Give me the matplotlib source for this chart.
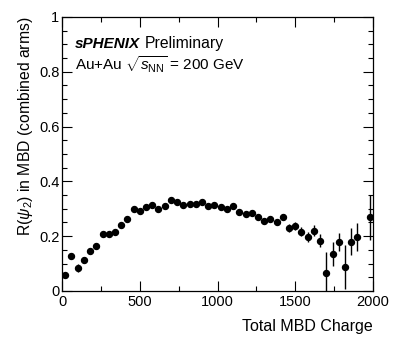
import numpy as np
import matplotlib
matplotlib.use("Agg")
import matplotlib.pyplot as plt
from matplotlib.ticker import MultipleLocator

plt.rcParams['font.family'] = ['Liberation Sans', 'DejaVu Sans']
plt.rcParams['mathtext.fontset'] = 'custom'
plt.rcParams['mathtext.rm'] = 'Liberation Sans'
plt.rcParams['mathtext.it'] = 'Liberation Sans:italic'
plt.rcParams['mathtext.bf'] = 'Liberation Sans:bold'

# Bin centres of total MBD charge (40-unit bins)
charge = [20, 60, 100, 140, 180, 220, 260, 300, 340, 380,
          420, 460, 500, 540, 580, 620, 660, 700, 740, 780,
          820, 860, 900, 940, 980, 1020, 1060, 1100, 1140, 1180,
          1220, 1260, 1300, 1340, 1380, 1420, 1460, 1500, 1540, 1580,
          1620, 1660, 1700, 1740, 1780, 1820, 1860, 1900, 1980]
# Event-plane resolution R(psi_2)
resolution = [0.058, 0.128, 0.085, 0.113, 0.146, 0.165, 0.207, 0.208, 0.217, 0.240,
              0.264, 0.300, 0.290, 0.308, 0.313, 0.300, 0.311, 0.331, 0.326, 0.315,
              0.316, 0.318, 0.324, 0.310, 0.314, 0.305, 0.299, 0.310, 0.287, 0.281,
              0.283, 0.271, 0.257, 0.263, 0.253, 0.271, 0.230, 0.237, 0.217, 0.198,
              0.219, 0.184, 0.066, 0.135, 0.180, 0.089, 0.180, 0.197, 0.269]
# Statistical uncertainties
res_err = [0.008, 0.008, 0.014, 0.010, 0.008, 0.007, 0.006, 0.006, 0.006, 0.006,
           0.006, 0.006, 0.006, 0.006, 0.006, 0.006, 0.006, 0.006, 0.006, 0.006,
           0.006, 0.006, 0.006, 0.006, 0.006, 0.006, 0.008, 0.008, 0.009, 0.009,
           0.009, 0.010, 0.010, 0.010, 0.011, 0.011, 0.013, 0.015, 0.017, 0.019,
           0.020, 0.024, 0.078, 0.042, 0.033, 0.080, 0.049, 0.052, 0.083]

fig = plt.figure(figsize=(3.93, 3.47), dpi=100)
ax = fig.add_axes([0.158, 0.1614, 0.791, 0.790])

ax.errorbar(charge, resolution, yerr=res_err, fmt='o', color='black',
            markersize=4.3, elinewidth=1.0, capsize=0)

ax.set_xlim(0, 2000)
ax.set_ylim(0, 1)
ax.xaxis.set_major_locator(MultipleLocator(500))
ax.xaxis.set_minor_locator(MultipleLocator(250))
ax.yaxis.set_minor_locator(MultipleLocator(0.05))
ax.set_yticks([0, 0.2, 0.4, 0.6, 0.8, 1.0])
ax.set_yticklabels(['0', '0.2', '0.4', '0.6', '0.8', '1'])
ax.tick_params(which='both', direction='in', top=True, right=True,
               labelsize=10.5, width=0.8)
ax.tick_params(which='major', length=7)
ax.tick_params(axis='y', which='major', pad=2)
ax.tick_params(axis='x', which='major', pad=3)
ax.tick_params(which='minor', length=3.5)
for s in ax.spines.values():
    s.set_linewidth(0.9)

ax.set_xlabel('Total MBD Charge', fontsize=11.5, loc='right', labelpad=7)
ax.set_ylabel(r'R($\psi_2$) in MBD (combined arms)', fontsize=11.3,
              loc='top', labelpad=3)

t1 = ax.text(0.042, 0.885, 'sPHENIX', transform=ax.transAxes,
             fontsize=11, fontweight='bold', fontstyle='italic', va='baseline')
ax.annotate('Preliminary', xy=(1, 0), xycoords=t1, xytext=(3.5, 0),
            textcoords='offset points', fontsize=11.3, va='bottom')
ax.text(0.042, 0.805, r'Au+Au $\sqrt{s_{\rm NN}}$ = 200 GeV',
        transform=ax.transAxes, fontsize=11, va='baseline')

fig.savefig('out.png', dpi=100)
